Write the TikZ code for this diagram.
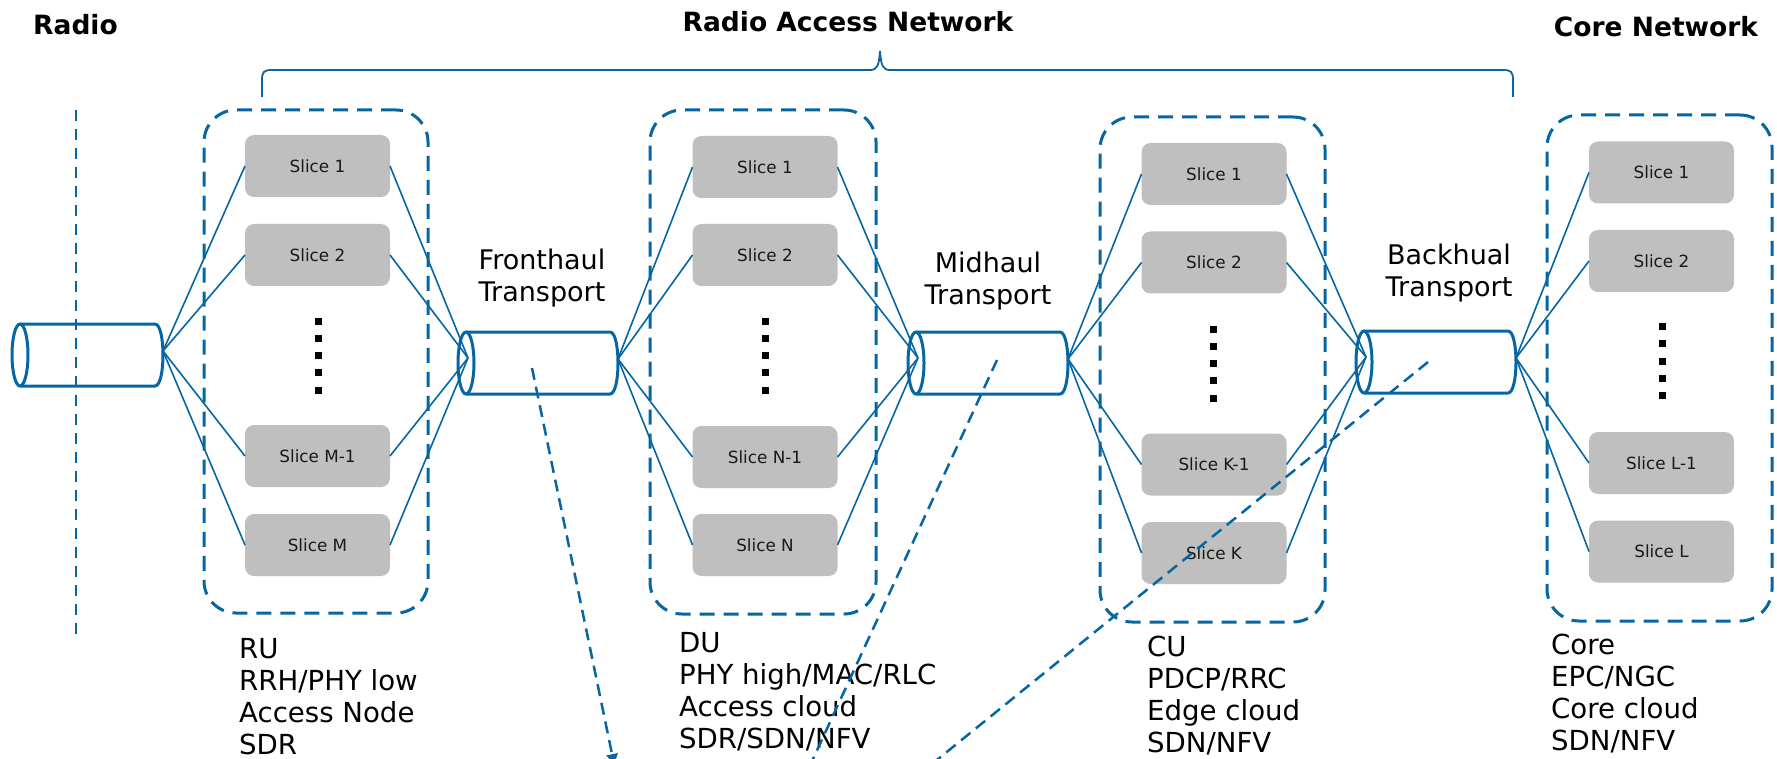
\documentclass[tikz,border=0pt]{standalone}
\usepackage{fontspec}
\setmainfont{DejaVu Sans}
\usetikzlibrary{arrows.meta}
\definecolor{blu}{HTML}{0566A3}
\definecolor{sliceg}{HTML}{BFBFBF}
\begin{document}
\begin{tikzpicture}[x=1pt,y=-1pt,
  slice/.style={fill=sliceg, rounded corners=9pt, minimum width=145pt, minimum height=62pt, inner sep=0pt, outer sep=0pt, font=\fontsize{16.8}{19}\selectfont, text=black!90},
  box/.style={draw=blu, line width=3pt, dash pattern=on 15pt off 9pt, rounded corners=32pt, inner sep=0pt, outer sep=0pt},
  link/.style={draw=blu, line width=1.6pt},
  tubeline/.style={draw=blu, line width=3pt, line join=round},
  guide/.style={draw=blu, line width=2.5pt, dash pattern=on 12pt off 7pt},
  head/.style={font=\bfseries\fontsize{26.5}{31}\selectfont, inner sep=0pt},
  lbl/.style={font=\fontsize{27}{31.5}\selectfont, align=center, inner sep=0pt},
  role/.style={font=\fontsize{27.6}{32}\selectfont, align=left, anchor=west, inner sep=0pt},
  dot/.style={fill=black, minimum size=7pt, inner sep=0pt},
  pics/tube/.style={code={
    \draw[tubeline] (0,0) ellipse [x radius=8, y radius=31];
    \draw[tubeline] (0,-31) -- (#1,-31) .. controls (#1+10.67,-31) and (#1+10.67,31) .. (#1,31) -- (0,31);
    \coordinate (-in) at (2,-5);
    \coordinate (-out) at (#1+8,-4);
  }}
]
\useasboundingbox (0,0) rectangle (1777,759);

% headings
\node[head] (hradio) at (75.5,25) {Radio};
\node[head] (hran) at (848,22) {Radio Access Network};
\node[head] (hcore) at (1656,27) {Core Network};

% brace
\draw[blu, line width=1.8pt] (262,97) -- (262,80) .. controls (262,72) and (264,70) .. (272,70) -- (870,70)
  .. controls (877,70) and (879,66) .. (880,51) .. controls (881,66) and (883,70) .. (890,70) -- (1503,70)
  .. controls (1511,70) and (1513,72) .. (1513,80) -- (1513,97);

% radio dashed vertical
\coordinate (vt) at (76,110);
\coordinate (vb) at (76,637);
\draw[blu, line width=2pt, dash pattern=on 11pt off 8pt] (vt) -- (vb);

% containers
\node[box, minimum width=224pt, minimum height=503pt] (cru) at (316,361.5) {};
\node[box, minimum width=226pt, minimum height=504pt] (cdu) at (763,362) {};
\node[box, minimum width=225pt, minimum height=505pt] (ccu) at (1212.5,369.5) {};
\node[box, minimum width=225pt, minimum height=506pt] (ccore) at (1659.5,368) {};

% tubes
\pic (radio) at (20,355) {tube=135};
\pic (fh) at (466,363) {tube=144};
\pic (mh) at (916,363) {tube=144};
\pic (bh) at (1364,362) {tube=144};

% slices
\node[slice] (r1) at (317.5,166) {Slice 1};
\node[slice] (r2) at (317.5,255) {Slice 2};
\node[slice] (r3) at (317.5,456) {Slice M-1};
\node[slice] (r4) at (317.5,545) {Slice M};

\node[slice] (d1) at (765,167) {Slice 1};
\node[slice] (d2) at (765,255) {Slice 2};
\node[slice] (d3) at (765,457) {Slice N-1};
\node[slice] (d4) at (765,545) {Slice N};

\node[slice] (c1) at (1214,174) {Slice 1};
\node[slice] (c2) at (1214,262.5) {Slice 2};
\node[slice] (c3) at (1214,464.5) {Slice K-1};
\node[slice] (c4) at (1214,553) {Slice K};

\node[slice] (k1) at (1661.5,172.5) {Slice 1};
\node[slice] (k2) at (1661.5,261) {Slice 2};
\node[slice] (k3) at (1661.5,463) {Slice L-1};
\node[slice] (k4) at (1661.5,551.5) {Slice L};

% dots
\foreach \i in {0,...,4} {
  \node[dot] (rd\i) at (318,321+17.3*\i) {};
  \node[dot] (dd\i) at (765,321+17.3*\i) {};
  \node[dot] (cd\i) at (1213,329+17.3*\i) {};
  \node[dot] (kd\i) at (1662,326.5+17.3*\i) {};
}

% links
\foreach \s in {r1,r2,r3,r4} {
  \draw[link] (\s.west) -- (radio-out);
  \draw[link] (\s.east) -- (fh-in);
}
\foreach \s in {d1,d2,d3,d4} {
  \draw[link] (\s.west) -- (fh-out);
  \draw[link] (\s.east) -- (mh-in);
}
\foreach \s in {c1,c2,c3,c4} {
  \draw[link] (\s.west) -- (mh-out);
  \draw[link] (\s.east) -- (bh-in);
}
\foreach \s in {k1,k2,k3,k4} {
  \draw[link] (\s.west) -- (bh-out);
}

% transport labels
\node[lbl] (tfh) at (542,278) {Fronthaul\\Transport};
\node[lbl] (tmh) at (988,281) {Midhaul\\Transport};
\node[lbl] (tbh) at (1449,273) {Backhual\\Transport};

% role labels
\node[role] (lru) at (239,697) {RU\\RRH/PHY low\\Access Node\\SDR};
\node[role] (ldu) at (679,691.5) {DU\\PHY high/MAC/RLC\\Access cloud\\SDR/SDN/NFV};
\node[role] (lcu) at (1147,695.5) {CU\\PDCP/RRC\\Edge cloud\\SDN/NFV};
\node[role] (lcore) at (1551,694) {Core\\EPC/NGC\\Core cloud\\SDN/NFV};

% dashed guides
\coordinate (gfs) at (532,368);
\coordinate (gfe) at (614.5,766);
\coordinate (gms) at (997,360);
\coordinate (gme) at (801,785);
\coordinate (gbs) at (1428,362);
\coordinate (gbe) at (906,785);
\draw[guide, -{Latex[length=12pt,width=13pt]}] (gfs) -- (gfe);
\draw[guide] (gms) -- (gme);
\draw[guide] (gbs) -- (gbe);
\end{tikzpicture}
\end{document}
